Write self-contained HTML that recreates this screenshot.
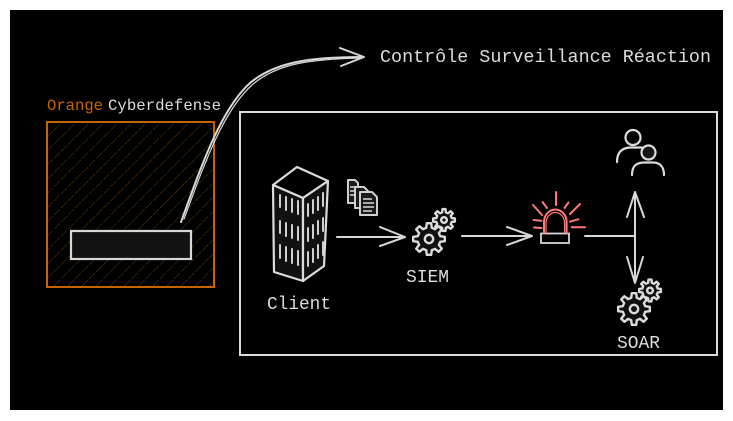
<!DOCTYPE html>
<html><head><meta charset="utf-8"><style>
html,body{margin:0;padding:0;background:#fff;}
svg{display:block;}
</style></head><body>
<svg width="733" height="421" viewBox="0 0 733 421" xmlns="http://www.w3.org/2000/svg">
<defs>
<pattern id="hatch" patternUnits="userSpaceOnUse" width="10" height="10" patternTransform="rotate(45)">
<line x1="0" y1="0" x2="0" y2="10" stroke="#6b4210" stroke-width="1" stroke-dasharray="4 1.5"/>
</pattern>
<g id="gear">
<polygon vector-effect="non-scaling-stroke" points=".699,-.174 .990,-.139 .990,.139 .699,.174 .617,.371 .799,.602 .602,.799 .371,.617 .174,.699 .139,.990 -.139,.990 -.174,.699 -.371,.617 -.602,.799 -.799,.602 -.617,.371 -.699,.174 -.990,.139 -.990,-.139 -.699,-.174 -.617,-.371 -.799,-.602 -.602,-.799 -.371,-.617 -.174,-.699 -.139,-.990 .139,-.990 .174,-.699 .371,-.617 .602,-.799 .799,-.602 .617,-.371" fill="#111" stroke="#dcdcdc" stroke-width="2.4" stroke-linejoin="round"/>
<circle vector-effect="non-scaling-stroke" cx="0" cy="0" r="0.26" fill="#111" stroke="#dcdcdc" stroke-width="2.4"/>
</g>
</defs>

<rect x="10" y="10" width="713" height="400" fill="#000"/>

<!-- Orange box -->
<rect x="47" y="122" width="167" height="165" fill="url(#hatch)" stroke="#c86400" stroke-width="2"/>
<rect x="71" y="231" width="120" height="28" fill="#121212" stroke="#d6d6d6" stroke-width="2.2"/>
<text x="47" y="110" font-family="Liberation Mono, monospace" font-size="16" fill="#c86400" textLength="56" lengthAdjust="spacingAndGlyphs">Orange</text>
<text x="108" y="110" font-family="Liberation Mono, monospace" font-size="16" fill="#dcdcdc" textLength="113" lengthAdjust="spacingAndGlyphs">Cyberdefense</text>

<!-- Curved arrow -->
<g fill="none" stroke="#d8d8d8" stroke-width="2" stroke-linecap="round" stroke-linejoin="round">
<path d="M181,222 C200,170 220,110 250,83 C275,62 310,57 363,57"/>
<path d="M184,219 C203,168 222,112 252,85 C277,63 312,59 362,58" stroke-width="1.2"/>
<path d="M340,48 L364,57 L341,66"/>
</g>
<text x="380" y="62" font-family="Liberation Mono, monospace" font-size="18.4" fill="#dcdcdc" textLength="331" lengthAdjust="spacingAndGlyphs">Contrôle Surveillance Réaction</text>

<!-- Main box -->
<rect x="240" y="112" width="477" height="243" fill="none" stroke="#dcdcdc" stroke-width="2"/>

<!-- Building -->
<g stroke="#dcdcdc" stroke-width="2.2" stroke-linejoin="round">
<polygon points="297,167 328,181 303,198 273,185" fill="#000"/>
<polygon points="273,185 303,198 303,281 274,272" fill="#111"/>
<polygon points="303,198 328,181 324,266 303,281" fill="#111"/>
</g>
<g stroke="#d0d0d0" stroke-width="2" stroke-linecap="round">
<line x1="280" y1="195" x2="280" y2="207"/><line x1="286" y1="197" x2="286" y2="210"/><line x1="292" y1="199" x2="292" y2="212"/><line x1="298" y1="201" x2="298" y2="214"/>
<line x1="280" y1="221" x2="280" y2="233"/><line x1="286" y1="223" x2="286" y2="236"/><line x1="292" y1="225" x2="292" y2="238"/><line x1="298" y1="227" x2="298" y2="240"/>
<line x1="280" y1="245" x2="280" y2="258"/><line x1="286" y1="247" x2="286" y2="261"/><line x1="292" y1="249" x2="292" y2="263"/><line x1="298" y1="251" x2="298" y2="265"/>
<line x1="308" y1="204" x2="308" y2="216"/><line x1="313" y1="200" x2="313" y2="213"/><line x1="318" y1="197" x2="318" y2="210"/><line x1="323" y1="193" x2="323" y2="206"/>
<line x1="308" y1="228" x2="308" y2="241"/><line x1="313" y1="225" x2="313" y2="238"/><line x1="318" y1="221" x2="318" y2="234"/><line x1="323" y1="218" x2="323" y2="231"/>
<line x1="308" y1="252" x2="308" y2="266"/><line x1="313" y1="249" x2="313" y2="262"/><line x1="318" y1="245" x2="318" y2="258"/><line x1="323" y1="242" x2="323" y2="255"/>
</g>
<text x="267" y="309" font-family="Liberation Mono, monospace" font-size="18" fill="#dcdcdc" textLength="64" lengthAdjust="spacingAndGlyphs">Client</text>

<!-- Documents -->
<g stroke="#cfcfcf" stroke-width="2" fill="#1a1a1a" stroke-linejoin="round">
<path d="M348,180 L355,180 L358,183 L358,203 L348,203 Z"/>
<path d="M355,187 L364,187 L368,191 L368,208 L355,208 Z"/>
<path d="M360,192 L372,192 L377,197 L377,215 L360,215 Z"/>
</g>
<g stroke="#cfcfcf" stroke-width="1.6">
<line x1="363" y1="199" x2="372" y2="199"/><line x1="363" y1="203" x2="374" y2="203"/><line x1="363" y1="207" x2="374" y2="207"/><line x1="363" y1="211" x2="372" y2="211"/>
<line x1="350" y1="187" x2="355" y2="187"/><line x1="350" y1="191" x2="355" y2="191"/><line x1="350" y1="195" x2="355" y2="195"/>
</g>

<!-- Arrow Client -> SIEM -->
<g fill="none" stroke="#d8d8d8" stroke-width="2" stroke-linecap="round" stroke-linejoin="round">
<line x1="337" y1="237" x2="404" y2="237"/>
<path d="M380,227 L405,237 L380,246"/>
</g>

<!-- SIEM gears -->
<use href="#gear" transform="translate(444,220) scale(11)"/>
<use href="#gear" transform="translate(429,239) scale(16)"/>
<text x="406" y="282" font-family="Liberation Mono, monospace" font-size="18" fill="#dcdcdc" textLength="43" lengthAdjust="spacingAndGlyphs">SIEM</text>

<!-- Arrow SIEM -> alarm -->
<g fill="none" stroke="#d8d8d8" stroke-width="2" stroke-linecap="round" stroke-linejoin="round">
<line x1="462" y1="236" x2="531" y2="236"/>
<path d="M507,227 L532,236 L507,245"/>
</g>

<!-- Alarm -->
<rect x="541" y="233.5" width="28" height="9.5" fill="none" stroke="#d6d6d6" stroke-width="1.8"/>
<g fill="none" stroke="#ff7b7b" stroke-width="2" stroke-linecap="round">
<path d="M544,233 L544,222 A11.3,12.5 0 0 1 566.6,222 L566.6,233"/>
<path d="M546,232 L546,223 A9.3,10.5 0 0 1 564.6,223 L564.6,232" stroke-width="1.2"/>
<line x1="556" y1="192" x2="556" y2="205"/>
<line x1="533" y1="205" x2="542" y2="215"/>
<line x1="542.5" y1="202" x2="547" y2="208"/>
<line x1="564.5" y1="208" x2="568.5" y2="202.5"/>
<line x1="570" y1="214" x2="580" y2="204"/>
<line x1="533.5" y1="220" x2="541.5" y2="220.7"/>
<line x1="534" y1="227.5" x2="541.5" y2="228"/>
<line x1="570" y1="221.7" x2="578.3" y2="219.3"/>
<line x1="571.7" y1="227.3" x2="585" y2="227.3"/>
</g>

<!-- Alarm -> junction & vertical double arrow -->
<g fill="none" stroke="#d8d8d8" stroke-width="2" stroke-linecap="round" stroke-linejoin="round">
<line x1="585" y1="236" x2="634" y2="236"/>
<line x1="635" y1="193" x2="635" y2="282"/>
<path d="M627,217 L635,192 L644,217"/>
<path d="M627,257 L635,283 L643,257"/>
</g>

<!-- Users -->
<g fill="none" stroke="#dcdcdc" stroke-width="2.2" stroke-linecap="round">
<circle cx="633" cy="137.5" r="7.5" fill="#000"/>
<path d="M617,162 C617,152 622,148 630,147.5 L642,147.5"/>
<path d="M632,175 C632,166 636,162.5 645,162.5 L653,162.5 C660,162.5 664,167 664,175" fill="#000"/>
<circle cx="648.5" cy="152.5" r="7" fill="#161616"/>
</g>

<!-- SOAR gears -->
<use href="#gear" transform="translate(650,290.5) scale(11)"/>
<use href="#gear" transform="translate(634,309) scale(16)"/>
<text x="617" y="348" font-family="Liberation Mono, monospace" font-size="18" fill="#dcdcdc" textLength="43" lengthAdjust="spacingAndGlyphs">SOAR</text>
</svg>
</body></html>
